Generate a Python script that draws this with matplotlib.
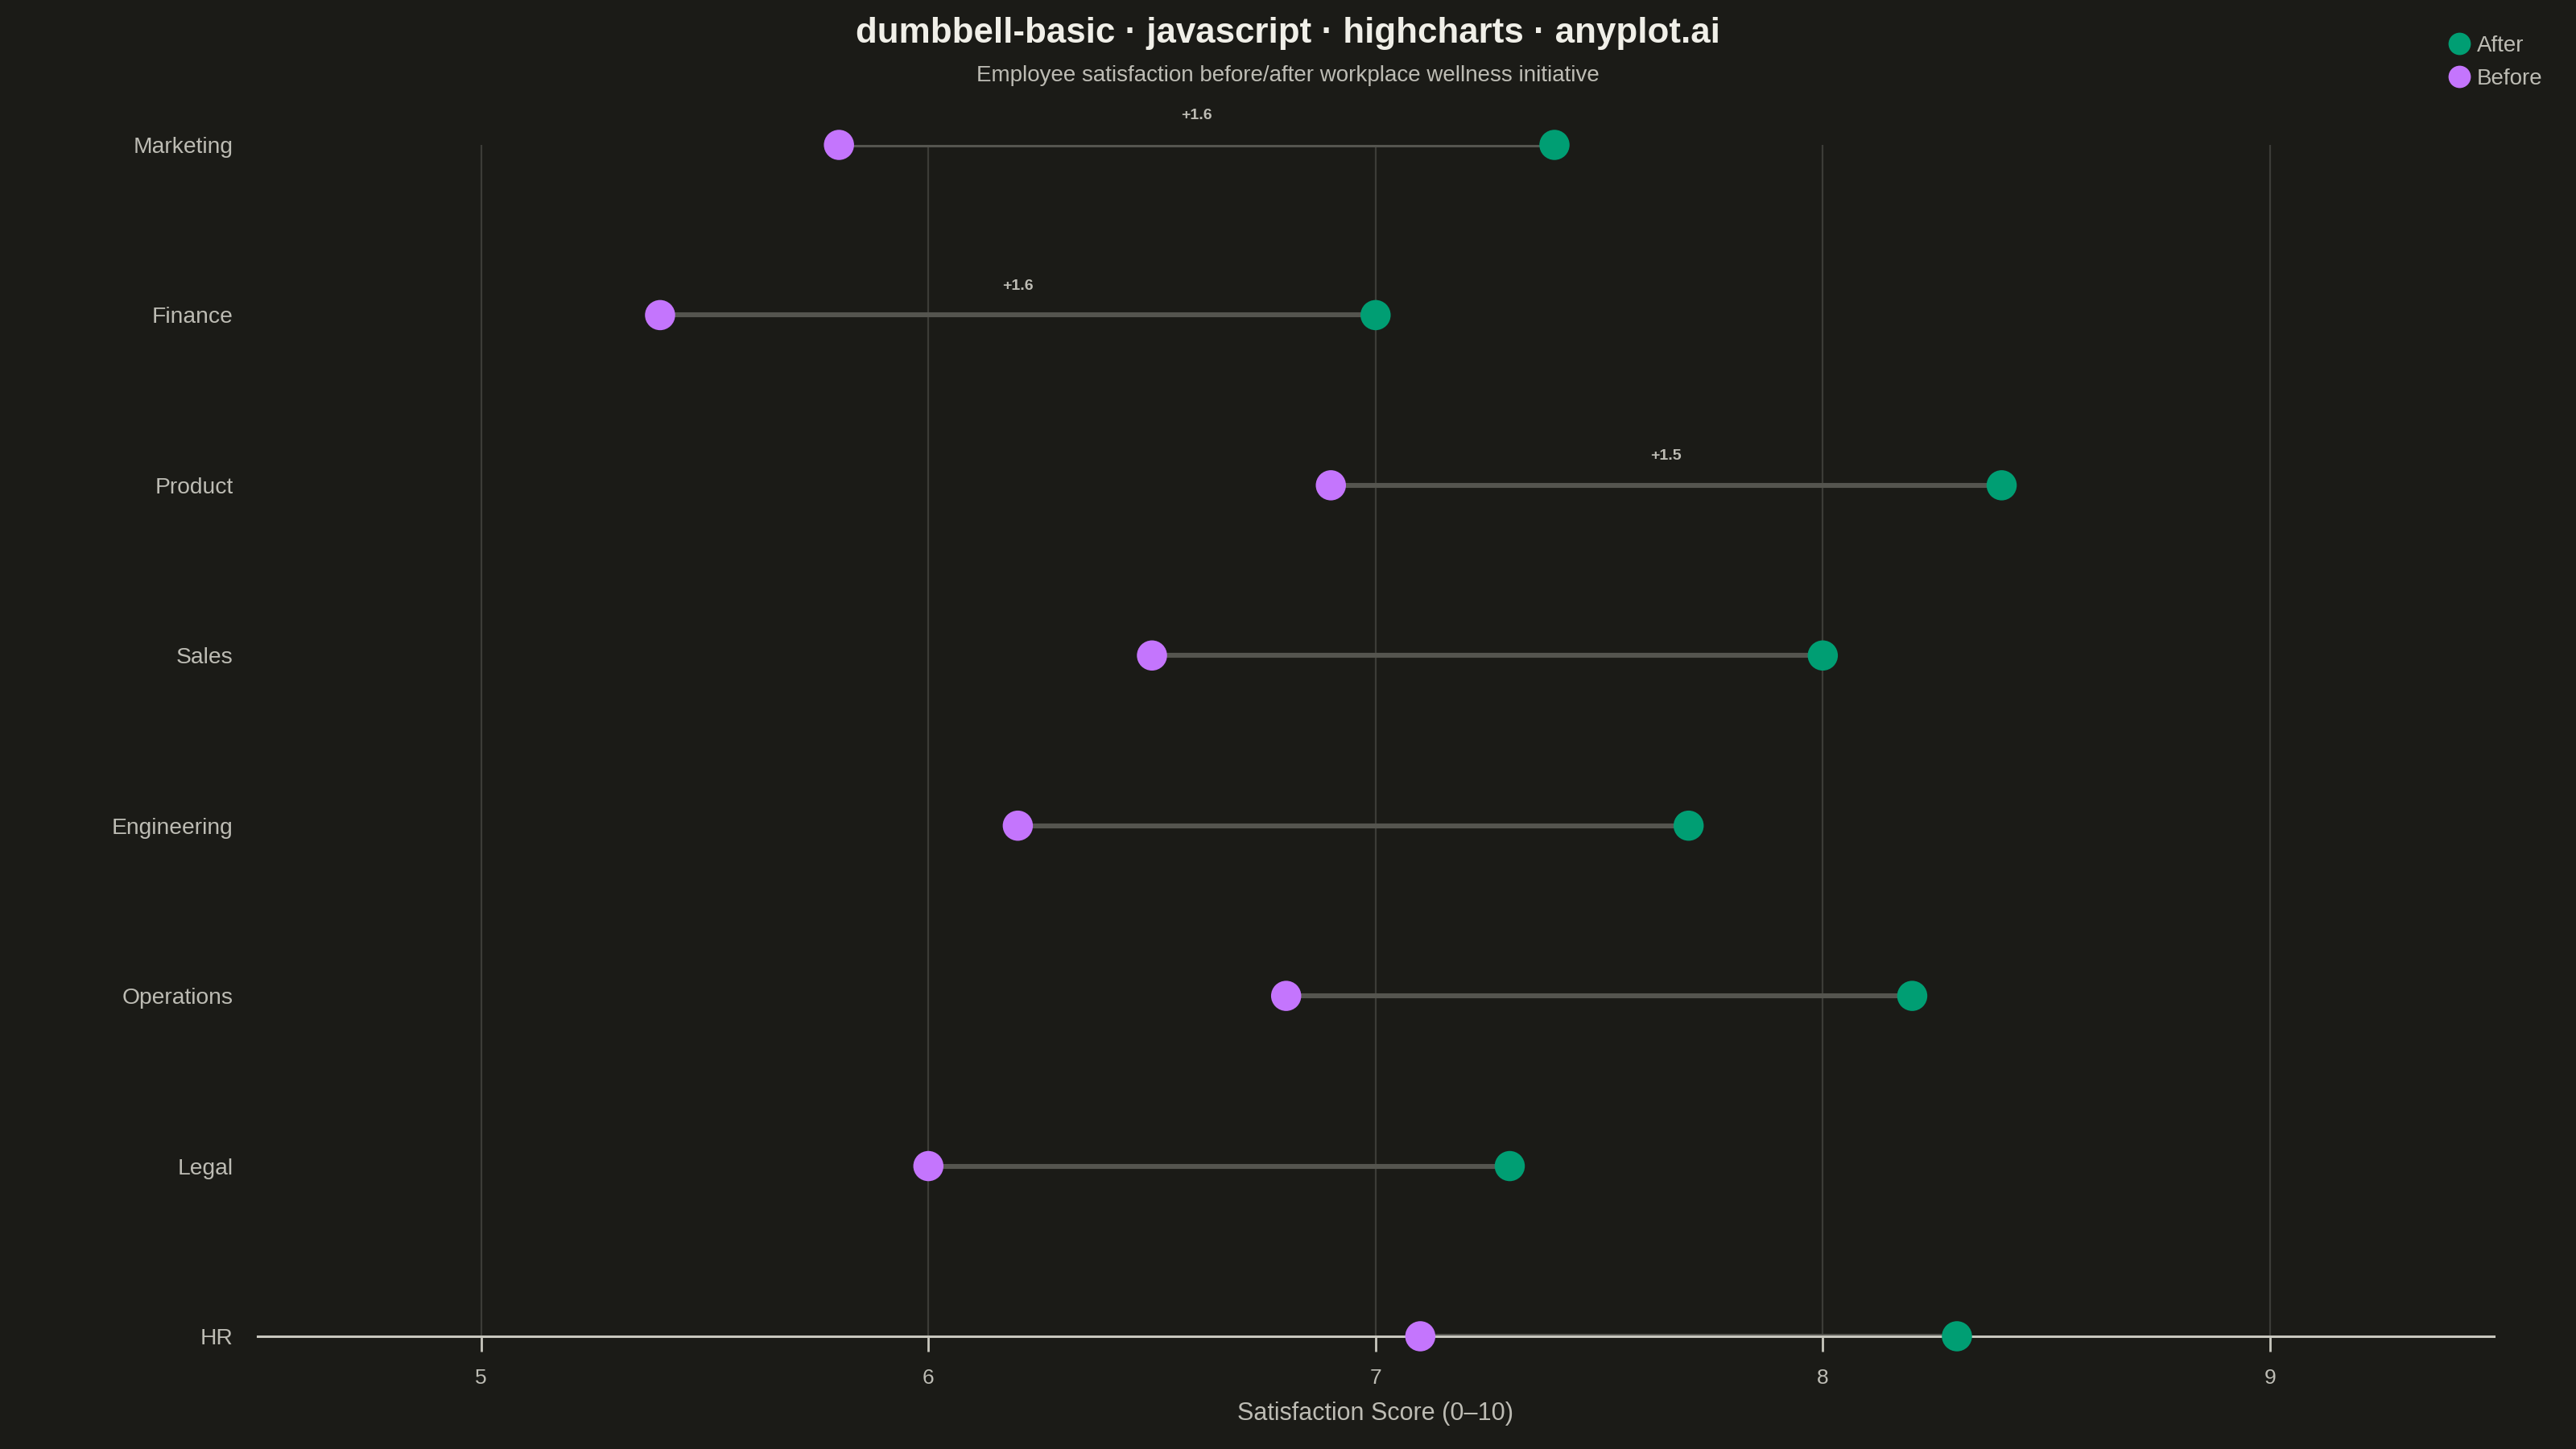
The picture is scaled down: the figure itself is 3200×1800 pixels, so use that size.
import matplotlib
matplotlib.use('Agg')
import matplotlib.pyplot as plt
from matplotlib.lines import Line2D

# Datos (ordenados por mejora)
departments = ['Marketing', 'Finance', 'Product', 'Sales', 'Engineering', 'Operations', 'Legal', 'HR']
before = [5.8, 5.4, 6.9, 6.5, 6.2, 6.8, 6.0, 7.1]
after = [7.4, 7.0, 8.4, 8.0, 7.7, 8.2, 7.3, 8.3]
x_ticks = [5, 6, 7, 8, 9]

BG = '#1b1b17'
GREEN = '#009e73'
PURPLE = '#c475fd'
TXT = '#bdbcb4'
TITLE_C = '#f0efe8'

plt.rcParams['font.family'] = ['Liberation Sans', 'DejaVu Sans']

fig = plt.figure(figsize=(16, 9), dpi=200, facecolor=BG)
ax = fig.add_axes([0.1, 0.0778, 0.868, 0.8222], facecolor=BG)

ypos = list(range(len(departments)))

# Conectores
for y, b, a in zip(ypos, before, after):
    ax.plot([b, a], [y, y], color='#55554f', lw=2.2, solid_capstyle='butt', zorder=2)

ax.scatter(before, ypos, s=13.5**2, color=PURPLE, zorder=4, edgecolors='none', clip_on=False)
ax.scatter(after, ypos, s=13.5**2, color=GREEN, zorder=4, edgecolors='none', clip_on=False)

# Etiquetas de diferencia en los 3 primeros
for y, b, a in list(zip(ypos, before, after))[:3]:
    ax.annotate(f'+{a - b:.1f}', xy=((a + b) / 2, y), xytext=(0, 10),
                textcoords='offset points', ha='center', va='bottom',
                fontsize=7, fontweight='bold', color=TXT)

ax.set_xlim(4.5, 9.5)
ax.set_ylim(len(departments) - 1, 0)
ax.set_yticks(ypos)
ax.set_yticklabels(departments)
ax.set_xticks(x_ticks)
ax.tick_params(axis='y', length=0, pad=11, labelsize=10.2, labelcolor=TXT)
ax.tick_params(axis='x', length=7, width=1, color='#c8c7be', pad=7.5, labelsize=9.5, labelcolor=TXT)
ax.grid(axis='x', color='#3c3c37', lw=0.8, zorder=0)
ax.set_axisbelow(True)
for s in ['top', 'left', 'right']:
    ax.spines[s].set_visible(False)
ax.spines['bottom'].set_color('#c8c7be')
ax.spines['bottom'].set_linewidth(1.1)
ax.spines['bottom'].set_zorder(3)
ax.set_xlabel('Satisfaction Score (0\u201310)', fontsize=11, color=TXT, labelpad=6)

fig.text(0.5, 0.977, 'dumbbell-basic \u00b7 javascript \u00b7 highcharts \u00b7 anyplot.ai',
         ha='center', va='center', fontsize=15.8, fontweight='bold', color=TITLE_C)
fig.text(0.5, 0.948, 'Employee satisfaction before/after workplace wellness initiative',
         ha='center', va='center', fontsize=10, color=TXT)

handles = [Line2D([], [], marker='o', ls='none', markersize=10, color=GREEN, markeredgewidth=0),
           Line2D([], [], marker='o', ls='none', markersize=10, color=PURPLE, markeredgewidth=0)]
leg = fig.legend(handles, ['After', 'Before'], loc='upper left', bbox_to_anchor=(0.946, 0.982),
                 frameon=False, fontsize=10, handletextpad=0.2, labelspacing=0.55,
                 handlelength=1.2, borderaxespad=0)
for t in leg.get_texts():
    t.set_color(TXT)

fig.savefig('out.png', dpi=200, facecolor=BG)
